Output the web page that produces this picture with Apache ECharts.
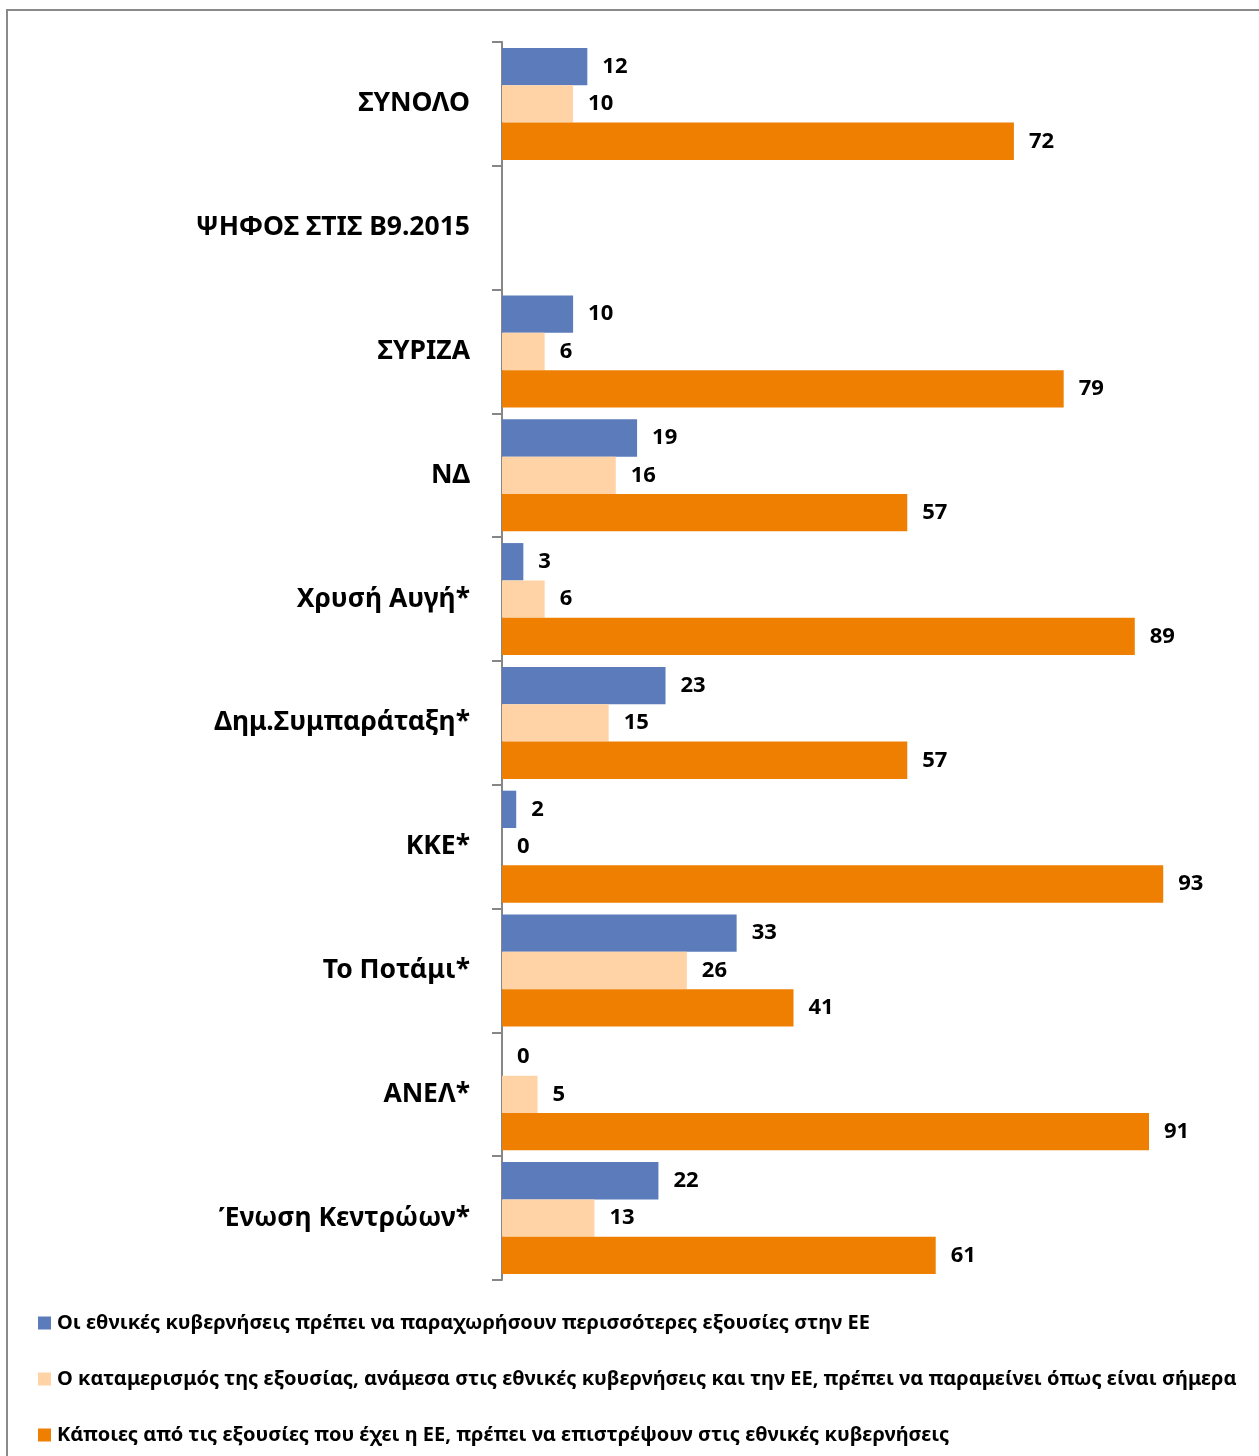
<!DOCTYPE html>
<html>
<head>
<meta charset="utf-8">
<script src="https://cdn.jsdelivr.net/npm/echarts@6/dist/echarts.min.js"></script>
<style>
html,body{margin:0;padding:0;background:#fff;}
#chart{width:1259px;height:1456px;}
</style>
</head>
<body>
<div id="chart"></div>
<script>
const categories = ['ΣΥΝΟΛΟ', 'ΨΗΦΟΣ ΣΤΙΣ Β9.2015', 'ΣΥΡΙΖΑ', 'ΝΔ', 'Χρυσή Αυγή*', 'Δημ.Συμπαράταξη*', 'ΚΚΕ*', 'Το Ποτάμι*', 'ΑΝΕΛ*', 'Ένωση Κεντρώων*'];
const seriesNames = [
  'Οι εθνικές κυβερνήσεις πρέπει να παραχωρήσουν περισσότερες εξουσίες στην ΕΕ',
  'Ο καταμερισμός της εξουσίας, ανάμεσα στις εθνικές κυβερνήσεις και την ΕΕ, πρέπει να παραμείνει όπως είναι σήμερα',
  'Κάποιες από τις εξουσίες που έχει η ΕΕ, πρέπει να επιστρέψουν στις εθνικές κυβερνήσεις'
];
const moreToEU = [12, null, 10, 19, 3, 23, 2, 33, 0, 22];
const keepAsIs = [10, null, 6, 16, 6, 15, 0, 26, 5, 13];
const returnToNational = [72, null, 79, 57, 89, 57, 93, 41, 91, 61];
const colors = ['#5B7BBA', '#FFD3A5', '#EF7F00'];

const FONT = '"Noto Sans", sans-serif';
const chart = echarts.init(document.getElementById('chart'), null, {renderer: 'canvas'});

function bar(name, data, color) {
  return {
    name: name,
    type: 'bar',
    data: data,
    barGap: '0%',
    barCategoryGap: '9.5%',
    itemStyle: {color: color},
    label: {
      show: true,
      position: 'right',
      distance: 15,
      color: '#000',
      fontFamily: FONT,
      fontWeight: 'bold',
      fontSize: 22
    },
    emphasis: {disabled: true}
  };
}

const legendTops = [1313, 1369, 1425];
const legends = seriesNames.map((n, i) => ({
  data: [n],
  orient: 'vertical',
  left: 38,
  top: legendTops[i],
  padding: 0,
  itemWidth: 13,
  itemHeight: 13,
  itemGap: 6,
  icon: 'rect',
  selectedMode: false,
  textStyle: {fontFamily: FONT, fontWeight: 'bold', fontSize: 20, lineHeight: 20, color: '#000', padding: [0, 0, 0, 1]}
}));

chart.setOption({
  animation: false,
  backgroundColor: '#fff',
  color: colors,
  legend: legends,
  grid: {left: 502, top: 42, width: 711, height: 1238, containLabel: false},
  xAxis: {
    type: 'value',
    min: 0,
    max: 100,
    show: false
  },
  yAxis: {
    type: 'category',
    data: categories,
    inverse: true,
    axisLine: {show: true, lineStyle: {color: '#868686', width: 2}},
    axisTick: {show: true, length: 10, lineStyle: {color: '#868686', width: 2}},
    axisLabel: {
      margin: 32,
      color: '#000',
      fontFamily: FONT,
      fontWeight: 'bold',
      fontSize: 26.5
    }
  },
  series: [
    bar(seriesNames[0], moreToEU, colors[0]),
    bar(seriesNames[1], keepAsIs, colors[1]),
    bar(seriesNames[2], returnToNational, colors[2])
  ],
  graphic: [{
    type: 'rect',
    shape: {x: 7, y: 10, width: 1400, height: 1600},
    style: {fill: 'none', stroke: '#8A8A8A', lineWidth: 2},
    silent: true
  }]
});
</script>
</body>
</html>
